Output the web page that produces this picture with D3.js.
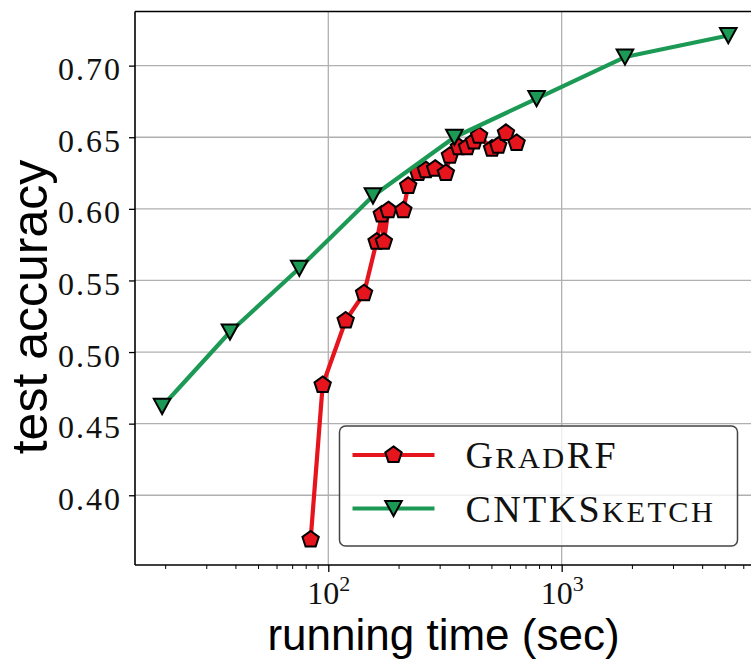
<!DOCTYPE html>
<html>
<head>
<meta charset="utf-8">
<script src="https://cdn.jsdelivr.net/npm/d3@7"></script>
<style>
  html,body{margin:0;padding:0;background:#fff;}
  svg{display:block;}
</style>
</head>
<body>
<div id="chart"></div>
<script>
// GradRF vs CNTKSketch — test accuracy against running time (log x)
const gradTime = [84, 94.6, 118.7, 142.3, 161, 169.5, 173, 181, 209.6, 220, 243, 262, 287, 319, 332, 363, 393, 421, 443, 503, 535, 577, 641];
const gradAcc  = [0.369, 0.477, 0.522, 0.541, 0.577, 0.596, 0.577, 0.599, 0.599, 0.616, 0.625, 0.627, 0.628, 0.625, 0.637, 0.643, 0.643, 0.647, 0.651, 0.642, 0.644, 0.653, 0.646];
const cntkTime = [19.4, 37.9, 75.1, 155.4, 347, 781, 1867, 5176];
const cntkAcc  = [0.462, 0.514, 0.5585, 0.609, 0.650, 0.677, 0.706, 0.721];
const yTicks = [0.40, 0.45, 0.50, 0.55, 0.60, 0.65, 0.70];
const xMajor = [2, 3];               // exponents of 10
const xMinor = [20,30,40,50,60,70,80,90,200,300,400,500,600,700,800,900,2000,3000,4000,5000,6000];
const series = [
  {name:'GradRF',     caps:[['G',1],['RAD',.8],['RF',1]], t:gradTime, a:gradAcc, col:'#e5141d', mark:'pent'},
  {name:'CNTKSketch', caps:[['CNTKS',1],['KETCH',.8]],     t:cntkTime, a:cntkAcc, col:'#1c9a55', mark:'tri'}
];

const W = 751, H = 660;
const m = {l:135, t:11.5, r:752, b:565};
const svg = d3.select('#chart').append('svg').attr('width',W).attr('height',H);

const x = d3.scaleLog().domain([14.85, 6540]).range([m.l, m.r]);
const y = d3.scaleLinear().domain([0.3513, 0.7378]).range([m.b, m.t]);

const SERIF = '"Liberation Serif", "Times New Roman", serif';
const SANS = '"Liberation Sans", Arial, sans-serif';

// grid
const grid = svg.append('g').attr('stroke','#b0b0b0').attr('stroke-width',1.3);
yTicks.forEach(v=>grid.append('line').attr('x1',m.l).attr('x2',m.r).attr('y1',y(v)).attr('y2',y(v)));
xMajor.forEach(e=>grid.append('line').attr('x1',x(10**e)).attr('x2',x(10**e)).attr('y1',m.t).attr('y2',m.b));

// axes
const yAxis = d3.axisLeft(y).tickValues(yTicks).tickSize(6).tickPadding(6).tickFormat(d3.format('.2f'));
const gy = svg.append('g').attr('transform',`translate(${m.l},0)`).call(yAxis);
gy.select('.domain').remove();
gy.selectAll('line').attr('stroke','#000').attr('stroke-width',1.3);
gy.selectAll('text').attr('font-family',SERIF).attr('font-size',32).attr('letter-spacing',2)
  .attr('fill','#111').attr('dy',null).attr('y',14).attr('x',-13);

const xAxisMaj = d3.axisBottom(x).tickValues(xMajor.map(e=>10**e)).tickSize(7).tickFormat('');
const gx = svg.append('g').attr('transform',`translate(0,${m.b})`).call(xAxisMaj);
gx.select('.domain').remove();
gx.selectAll('line').attr('stroke','#000').attr('stroke-width',1.3);
gx.selectAll('.tick').each(function(d){
  const e = Math.round(Math.log10(d));
  const t = d3.select(this).append('text').attr('font-family',SERIF).attr('fill','#111')
    .attr('text-anchor','middle').attr('y',39);
  t.append('tspan').attr('font-size',32).text('10');
  t.append('tspan').attr('font-size',22).attr('dy',-13).text(e);
});
const gxm = svg.append('g').attr('transform',`translate(0,${m.b})`)
  .call(d3.axisBottom(x).tickValues(xMinor).tickSize(4).tickFormat(''));
gxm.select('.domain').remove();
gxm.selectAll('line').attr('stroke','#000').attr('stroke-width',1);

// spines
const sp = svg.append('g').attr('stroke','#000').attr('stroke-width',1.6);
sp.append('line').attr('x1',m.l).attr('x2',m.l).attr('y1',m.t).attr('y2',m.b);
sp.append('line').attr('x1',m.l).attr('x2',m.r).attr('y1',m.t).attr('y2',m.t);
sp.append('line').attr('x1',m.l).attr('x2',m.r).attr('y1',m.b).attr('y2',m.b);

// axis titles
svg.append('text').attr('x',(m.l+m.r)/2).attr('y',650).attr('text-anchor','middle')
  .attr('font-family',SANS).attr('font-size',44).attr('fill','#000').text('running time (sec)');
svg.append('text').attr('transform',`translate(47,${307}) rotate(-90)`).attr('text-anchor','middle')
  .attr('font-family',SANS).attr('font-size',50).attr('fill','#000').text('test accuracy');

// markers
const pent = r => { const p=d3.path(); for(let k=0;k<5;k++){ const a=-Math.PI/2+k*2*Math.PI/5;
  k?p.lineTo(r*Math.cos(a),r*Math.sin(a)):p.moveTo(r*Math.cos(a),r*Math.sin(a)); } p.closePath(); return p.toString(); };
const tri = (w,h) => `M0,${h} L${-w},${-h} L${w},${-h} Z`;
const markPath = s => s.mark==='pent' ? pent(8.6) : tri(8.3,7.6);

const line = d3.line().x(d=>x(d[0])).y(d=>y(d[1]));
series.forEach(s=>{
  const pts = s.t.map((t,i)=>[t, s.a[i]]);
  const g = svg.append('g');
  g.append('path').datum(pts).attr('d',line).attr('fill','none').attr('stroke',s.col)
    .attr('stroke-width',4.2).attr('stroke-linejoin','round');
  g.selectAll('path.mk').data(pts).join('path').attr('class','mk')
    .attr('transform',d=>`translate(${x(d[0])},${y(d[1])})`).attr('d',markPath(s))
    .attr('fill',s.col).attr('stroke','#000').attr('stroke-width',2).attr('stroke-linejoin','miter');
});

// legend
const lg = svg.append('g').attr('transform','translate(339.5,426)');
lg.append('rect').attr('width',398).attr('height',120).attr('rx',6)
  .attr('fill','#fff').attr('fill-opacity',0.8).attr('stroke','#444').attr('stroke-width',1.5);
series.forEach((s,i)=>{
  const yy = 29 + i*53.5;
  lg.append('line').attr('x1',13).attr('x2',95).attr('y1',yy).attr('y2',yy).attr('stroke',s.col).attr('stroke-width',4.2);
  lg.append('path').attr('transform',`translate(54,${yy})`).attr('d',markPath(s))
    .attr('fill',s.col).attr('stroke','#000').attr('stroke-width',2);
  const t = lg.append('text').attr('x',126).attr('y',yy+13).attr('font-family',SERIF).attr('fill','#111')
    .attr('letter-spacing',2.4);
  s.caps.forEach(([txt,sc])=>t.append('tspan').attr('font-size',38*sc).text(txt));
});
</script>
</body>
</html>
